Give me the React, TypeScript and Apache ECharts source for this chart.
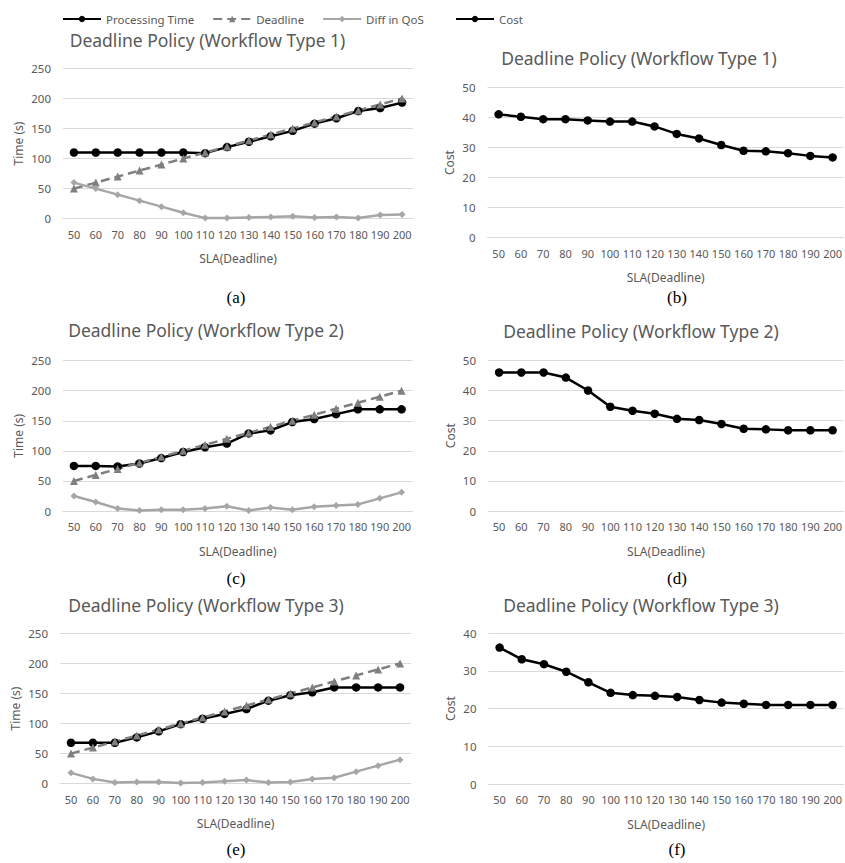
import React, { useEffect, useRef } from "react";
import * as echarts from "echarts";

const slaCategories = ["50", "60", "70", "80", "90", "100", "110", "120", "130", "140", "150", "160", "170", "180", "190", "200"];

const deadlineValues = [50, 60, 70, 80, 90, 100, 110, 120, 130, 140, 150, 160, 170, 180, 190, 200];

const processingType1 = [110, 110, 110, 110, 110, 110, 109, 119, 128, 137, 146, 158, 167, 179, 184, 193];
const diffType1 = [60, 50, 40, 30, 20, 10, 1, 1, 2, 3, 4, 2, 3, 1, 6, 7];
const costType1 = [41, 40.2, 39.4, 39.4, 39, 38.6, 38.6, 37, 34.5, 33, 30.8, 28.9, 28.7, 28.1, 27.2, 26.7];

const processingType2 = [75, 75, 74, 79, 88, 98, 106, 112, 129, 134, 148, 153, 161, 169, 169, 169];
const diffType2 = [25, 15, 4, 1, 2, 2, 4, 8, 1, 6, 2, 7, 9, 11, 21, 31];
const costType2 = [46, 46, 46, 44.3, 40, 34.6, 33.3, 32.3, 30.6, 30.2, 28.9, 27.3, 27.1, 26.8, 26.8, 26.8];

const processingType3 = [68, 68, 68, 77, 87, 99, 108, 116, 124, 138, 147, 152, 160, 160, 160, 160];
const diffType3 = [18, 8, 2, 3, 3, 1, 2, 4, 6, 2, 3, 8, 10, 20, 30, 40];
const costType3 = [36.2, 33.1, 31.8, 29.8, 27, 24.2, 23.6, 23.4, 23.1, 22.3, 21.6, 21.3, 21.0, 21.0, 21.0, 21.0];

const panelTitles = [
  "Deadline Policy (Workflow Type 1)",
  "Deadline Policy (Workflow Type 1)",
  "Deadline Policy (Workflow Type 2)",
  "Deadline Policy (Workflow Type 2)",
  "Deadline Policy (Workflow Type 3)",
  "Deadline Policy (Workflow Type 3)",
];
const captions = ["(a)", "(b)", "(c)", "(d)", "(e)", "(f)"];

const TEXT = "#595959";
const GRID_LINE = "#d9d9d9";
const FONT = "'Noto Sans', sans-serif";

export default function App() {
  const ref = useRef<HTMLDivElement>(null);

  useEffect(() => {
    if (!ref.current) return;
    const chart = echarts.init(ref.current, undefined, { renderer: "svg" });

    const grids = [
      { left: 63, top: 68.3, width: 350, height: 150.4 },
      { left: 487.5, top: 87.3, width: 357.5, height: 150.4 },
      { left: 63, top: 360.6, width: 349.5, height: 150.4 },
      { left: 488, top: 360.4, width: 357, height: 150.6 },
      { left: 60, top: 633.3, width: 351, height: 150.4 },
      { left: 488.5, top: 633.3, width: 356.5, height: 150.7 },
    ];
    const titlePos = [
      [207.5, 40], [639, 57.5], [206, 330], [641, 330.5], [206, 605], [641, 605],
    ];
    const captionPos = [
      [236, 297], [677, 297], [236, 578], [677, 578], [236, 849], [677, 849],
    ];

    const isCost = [false, true, false, true, false, true];
    const yMax = [250, 50, 250, 50, 250, 40];
    const yInterval = [50, 10, 50, 10, 50, 10];

    const xAxes = grids.map((_, i) => ({
      type: "category",
      gridIndex: i,
      data: slaCategories,
      boundaryGap: true,
      name: "SLA(Deadline)",
      nameLocation: "middle",
      nameGap: 34,
      nameTextStyle: { color: TEXT, fontSize: 12, fontFamily: FONT },
      axisLine: { show: true, lineStyle: { color: GRID_LINE, width: 1 } },
      axisTick: { show: false },
      axisLabel: { interval: 0, color: TEXT, fontSize: 11, fontFamily: FONT, margin: 10 },
      splitLine: { show: false },
    }));

    const yAxes = grids.map((_, i) => ({
      type: "value",
      gridIndex: i,
      min: 0,
      max: yMax[i],
      interval: yInterval[i],
      name: isCost[i] ? "Cost" : "Time (s)",
      nameLocation: "middle",
      nameRotate: 90,
      nameGap: isCost[i] ? 32 : 39,
      nameTextStyle: { color: TEXT, fontSize: 12, fontFamily: FONT },
      axisLine: { show: false },
      axisTick: { show: false },
      axisLabel: { color: TEXT, fontSize: 11.5, fontFamily: FONT, margin: 12 },
      splitLine: { show: true, lineStyle: { color: GRID_LINE, width: 1 } },
    }));

    const ptSeries = (data: number[], idx: number) => ({
      name: "Processing Time",
      type: "line",
      xAxisIndex: idx,
      yAxisIndex: idx,
      data,
      symbol: "circle",
      symbolSize: 8.5,
      itemStyle: { color: "#000000" },
      lineStyle: { color: "#000000", width: 2.5 },
    });
    const dlSeries = (data: number[], idx: number) => ({
      name: "Deadline",
      type: "line",
      xAxisIndex: idx,
      yAxisIndex: idx,
      data,
      symbol: "triangle",
      symbolSize: 8,
      itemStyle: { color: "#7f7f7f" },
      lineStyle: { color: "#7f7f7f", width: 2.5, type: [9, 5] },
    });
    const diffSeries = (data: number[], idx: number) => ({
      name: "Diff in QoS",
      type: "line",
      xAxisIndex: idx,
      yAxisIndex: idx,
      data,
      symbol: "diamond",
      symbolSize: 7,
      itemStyle: { color: "#a6a6a6" },
      lineStyle: { color: "#a6a6a6", width: 2.5 },
    });
    const costSeries = (data: number[], idx: number) => ({
      name: "Cost",
      type: "line",
      xAxisIndex: idx,
      yAxisIndex: idx,
      data,
      symbol: "circle",
      symbolSize: 8.5,
      itemStyle: { color: "#000000" },
      lineStyle: { color: "#000000", width: 2.5 },
    });

    const series = [
      ptSeries(processingType1, 0), dlSeries(deadlineValues, 0), diffSeries(diffType1, 0),
      costSeries(costType1, 1),
      ptSeries(processingType2, 2), dlSeries(deadlineValues, 2), diffSeries(diffType2, 2),
      costSeries(costType2, 3),
      ptSeries(processingType3, 4), dlSeries(deadlineValues, 4), diffSeries(diffType3, 4),
      costSeries(costType3, 5),
    ];

    const graphics: any[] = [];
    panelTitles.forEach((t, i) => {
      graphics.push({
        type: "text",
        x: titlePos[i][0],
        y: titlePos[i][1],
        style: {
          text: t,
          fill: TEXT,
          font: `17.5px ${FONT}`,
          align: "center",
          verticalAlign: "middle",
        },
      });
    });
    captions.forEach((c, i) => {
      graphics.push({
        type: "text",
        x: captionPos[i][0],
        y: captionPos[i][1],
        style: {
          text: c,
          fill: "#000000",
          font: `17px 'Liberation Serif', 'Times New Roman', serif`,
          align: "center",
          verticalAlign: "middle",
        },
      });
    });

    chart.setOption({
      animation: false,
      backgroundColor: "#ffffff",
      legend: [
        {
          left: 57,
          top: 8,
          itemWidth: 38,
          itemHeight: 8,
          itemGap: 18,
          data: ["Processing Time", "Deadline", "Diff in QoS"],
          textStyle: { color: TEXT, fontSize: 11.5, fontFamily: FONT },
        },
        {
          left: 450,
          top: 8,
          itemWidth: 38,
          itemHeight: 8,
          data: ["Cost"],
          textStyle: { color: TEXT, fontSize: 11.5, fontFamily: FONT },
        },
      ],
      grid: grids,
      xAxis: xAxes,
      yAxis: yAxes,
      series,
      graphic: graphics,
    } as any);

    return () => chart.dispose();
  }, []);

  return (
    <div
      ref={ref}
      style={{ position: "absolute", left: 0, top: 0, width: 845, height: 863, background: "#fff" }}
    />
  );
}
